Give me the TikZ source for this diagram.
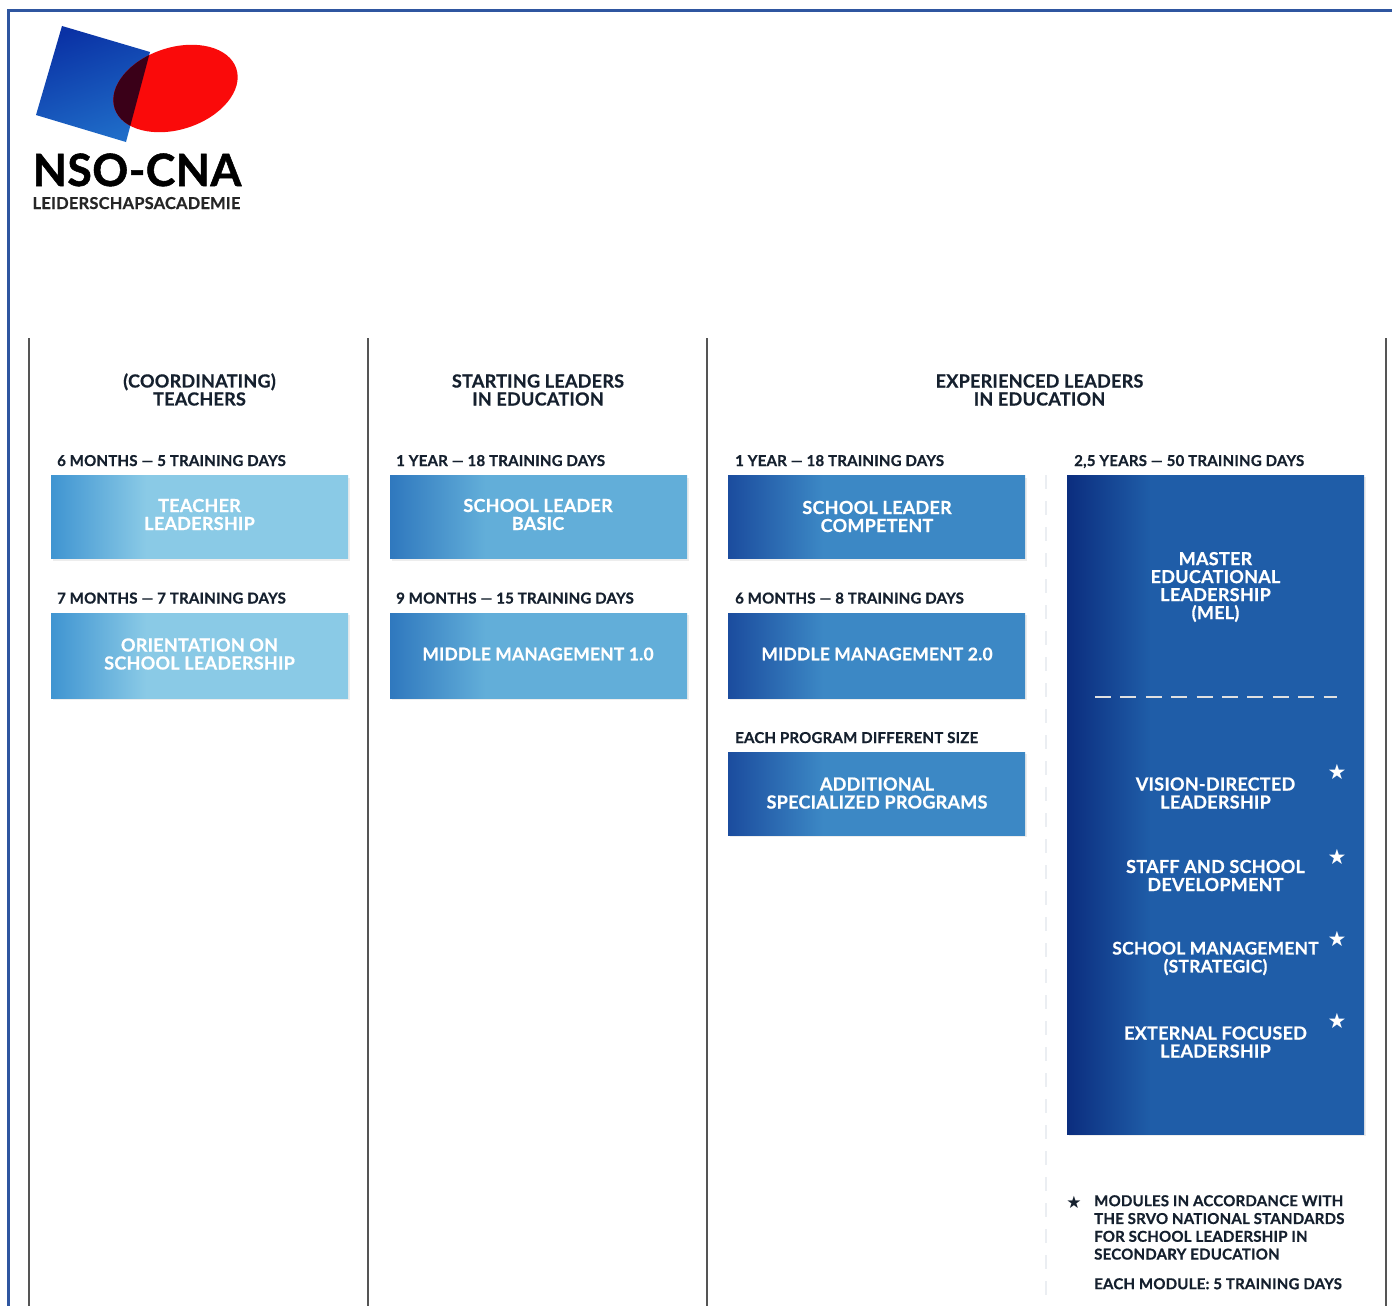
\documentclass[tikz,border=0pt]{standalone}
\usepackage{fontspec}
\setmainfont[LetterSpace=1.5,BoldFeatures={FakeBold=0.7}]{Lato}
\newfontfamily\logofont[LetterSpace=1,BoldFeatures={FakeBold=1.2}]{Lato}
\newfontfamily\symfont{DejaVu Sans}
\usetikzlibrary{shadows}
\definecolor{frameblue}{HTML}{2F56A0}
\definecolor{sepgray}{HTML}{555555}
\definecolor{dashgray}{HTML}{EBEEF2}
\definecolor{ink}{HTML}{15202E}
\definecolor{aL}{HTML}{3F94D1}\definecolor{aR}{HTML}{8ACAE6}
\definecolor{bL}{HTML}{2F78BE}\definecolor{bR}{HTML}{62AED9}
\definecolor{cL}{HTML}{1B4C9E}\definecolor{cR}{HTML}{3C88C5}
\definecolor{dL}{HTML}{0B2D7E}\definecolor{dR}{HTML}{1F5DA8}
\definecolor{logoL}{HTML}{0A32A5}\definecolor{logoR}{HTML}{1F6CC8}
\definecolor{logoRed}{HTML}{FA0A0A}\definecolor{logoDark}{HTML}{3A0018}
\pgfdeclarehorizontalshading{shA}{100bp}{color(0bp)=(aL);color(25bp)=(aL);color(41bp)=(aR);color(100bp)=(aR)}
\pgfdeclarehorizontalshading{shB}{100bp}{color(0bp)=(bL);color(25bp)=(bL);color(41bp)=(bR);color(100bp)=(bR)}
\pgfdeclarehorizontalshading{shC}{100bp}{color(0bp)=(cL);color(25bp)=(cL);color(41bp)=(cR);color(100bp)=(cR)}
\pgfdeclarehorizontalshading{shD}{100bp}{color(0bp)=(dL);color(25bp)=(dL);color(39bp)=(dR);color(100bp)=(dR)}
\tikzset{
  boxbase/.style={rectangle,inner sep=0pt,outer sep=0pt,anchor=north west,text=white,align=center,
    font=\fontsize{18}{18}\selectfont\bfseries,
    general shadow={shadow xshift=2pt,shadow yshift=-2pt,fill=black,opacity=.07}},
  boxA/.style={boxbase,shading=shA,minimum width=297pt},
  boxB/.style={boxbase,shading=shB,minimum width=297pt},
  boxC/.style={boxbase,shading=shC,minimum width=297pt},
  boxD/.style={boxbase,shading=shD,minimum width=297pt},
  head/.style={text=ink,align=center,inner sep=0pt,font=\fontsize{18}{18}\selectfont\bfseries},
  dur/.style={text=ink,anchor=base west,inner sep=0pt,font=\fontsize{15}{18}\selectfont\bfseries},
  inlab/.style={text=white,align=center,inner sep=0pt,font=\fontsize{18}{18}\selectfont\bfseries},
  inlabsm/.style={inlab,font=\fontsize{17.4}{18}\selectfont\bfseries},
  starw/.style={text=white,inner sep=0pt,font=\fontsize{21}{21}\symfont},
  legend/.style={text=ink,anchor=north west,align=left,inner sep=0pt,font=\fontsize{15}{17.8}\selectfont\bfseries},
  sep/.style={draw=sepgray,line width=2pt},
}
\begin{document}
\begin{tikzpicture}[x=1pt,y=-1pt]
\useasboundingbox (0,0) rectangle (1392,1306);
\fill[white] (0,0) rectangle (1392,1306);
% frame
\coordinate (f1) at (8,1306);\coordinate (f2) at (8,11);\coordinate (f3) at (1392,11);
\draw[frameblue,line width=3pt] (f1)--(f2)--(f3);
% logo
\shade[left color=logoL,right color=logoR,shading angle=20] (62,26)--(150,52)--(126,142)--(36,115)--cycle;
\fill[logoRed,rotate around={18:(175.5,88.5)}] (175.5,88.5) ellipse (64 and 41);
\begin{scope}
\clip (62,26)--(150,52)--(126,142)--(36,115)--cycle;
\fill[logoDark,rotate around={18:(175.5,88.5)}] (175.5,88.5) ellipse (64 and 41);
\end{scope}
\node[inner sep=0pt,anchor=base,text=black,font=\fontsize{44.5}{45}\logofont\bfseries] (logoA) at (137,186) {NSO-CNA};
\node[inner sep=0pt,anchor=base,text=black!85,font=\fontsize{16.4}{18}\selectfont\bfseries] (logoB) at (136.5,209) {LEIDERSCHAPSACADEMIE};
% separators
\foreach \n/\x in {a/29,b/368,c/707,d/1386}{
  \coordinate (s\n t) at (\x,338);\coordinate (s\n b) at (\x,1306);
  \draw[sep] (s\n t)--(s\n b);
}
\coordinate (dt) at (1046,475);\coordinate (db) at (1046,1306);
\draw[dashgray,line width=2.5pt,dash pattern=on 14pt off 12pt] (dt)--(db);
% headings
\node[head] (h1) at (199.5,389.5) {(COORDINATING)\\TEACHERS};
\node[head] (h2) at (538,390) {STARTING LEADERS\\IN EDUCATION};
\node[head] (h3) at (1039.5,390) {EXPERIENCED LEADERS\\IN EDUCATION};
% durations
\node[dur] (d1) at (57,466) {6 MONTHS — 5 TRAINING DAYS};
\node[dur] (d2) at (57,603.5) {7 MONTHS — 7 TRAINING DAYS};
\node[dur] (d3) at (396,466) {1 YEAR — 18 TRAINING DAYS};
\node[dur] (d4) at (396,603.5) {9 MONTHS — 15 TRAINING DAYS};
\node[dur] (d5) at (735,466) {1 YEAR — 18 TRAINING DAYS};
\node[dur] (d6) at (735,603.5) {6 MONTHS — 8 TRAINING DAYS};
\node[dur] (d7) at (735,743) {EACH PROGRAM DIFFERENT SIZE};
\node[dur] (d8) at (1074,466) {2,5 YEARS — 50 TRAINING DAYS};
% boxes
\node[boxA,minimum height=83pt] (b1) at (51,475.5) {};
\node[inlab] (t1) at (199.5,514.5) {TEACHER\\LEADERSHIP};
\node[boxA,minimum height=85pt] (b2) at (51,613) {};
\node[inlab] (t2) at (199.5,654) {ORIENTATION ON\\SCHOOL LEADERSHIP};
\node[boxB,minimum height=83pt] (b3) at (390,475.5) {};
\node[inlab] (t3) at (538,514.5) {SCHOOL LEADER\\BASIC};
\node[boxB,minimum height=85pt] (b4) at (390,613) {};
\node[inlabsm] (t4) at (538,654) {MIDDLE MANAGEMENT 1.0};
\node[boxC,minimum height=83pt] (b5) at (728,475.5) {};
\node[inlab] (t5) at (877,516.5) {SCHOOL LEADER\\COMPETENT};
\node[boxC,minimum height=85pt] (b6) at (728,613) {};
\node[inlabsm] (t6) at (877,654) {MIDDLE MANAGEMENT 2.0};
\node[boxC,minimum height=83pt] (b7) at (728,752) {};
\node[inlab] (t7) at (877,793) {ADDITIONAL\\SPECIALIZED PROGRAMS};
\node[boxD,minimum height=659pt] (b8) at (1067,475) {};
\node[inlab] (t8) at (1215.5,587) {MASTER\\EDUCATIONAL\\LEADERSHIP\\(MEL)};
\coordinate (m1) at (1095,697);\coordinate (m2) at (1337,697);
\draw[white!88!black,line width=1.6pt,dash pattern=on 16pt off 9.4pt] (m1)--(m2);
\node[inlab] (t9) at (1215.5,793) {VISION-DIRECTED\\LEADERSHIP};
\node[inlab] (t10) at (1215.5,875.5) {STAFF AND SCHOOL\\DEVELOPMENT};
\node[inlabsm] (t11) at (1215.5,958.5) {SCHOOL MANAGEMENT\\(STRATEGIC)};
\node[inlab] (t12) at (1215.5,1042) {EXTERNAL FOCUSED\\LEADERSHIP};
\node[starw] (s1) at (1337,772) {★};
\node[starw] (s2) at (1337,857) {★};
\node[starw] (s3) at (1337,939) {★};
\node[starw] (s4) at (1337,1021) {★};
% legend
\node[text=ink,inner sep=0pt,font=\fontsize{17}{17}\symfont] (st) at (1074,1202) {★};
\node[legend] (l1) at (1094,1195) {MODULES IN ACCORDANCE WITH\\THE SRVO NATIONAL STANDARDS\\FOR SCHOOL LEADERSHIP IN\\SECONDARY EDUCATION};
\node[legend] (l2) at (1094,1278) {EACH MODULE: 5 TRAINING DAYS};
\end{tikzpicture}
\end{document}
